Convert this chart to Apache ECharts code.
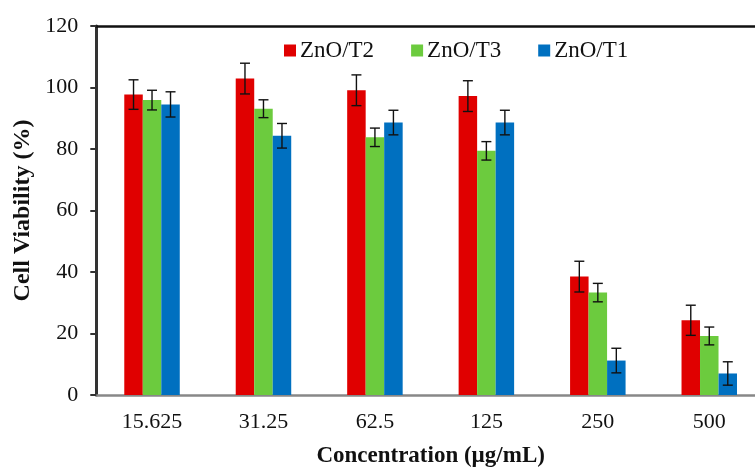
<!DOCTYPE html>
<html><head><meta charset="utf-8">
<script src="https://cdn.jsdelivr.net/npm/echarts@6/dist/echarts.min.js"></script>
<style>html,body{margin:0;padding:0;background:#fff}#c{width:755px;height:468px}</style>
</head><body><div id="c"></div>
<script>
const categories = ['15.625', '31.25', '62.5', '125', '250', '500'];
const seriesNames = ['ZnO/T2', 'ZnO/T3', 'ZnO/T1'];
const t2Values = [97.7, 102.9, 99.1, 97.2, 38.5, 24.3];
const t3Values = [95.9, 93.1, 83.8, 79.4, 33.3, 19.2];
const t1Values = [94.5, 84.3, 88.6, 88.6, 11.2, 7.0];
const t2Errors = [4.8, 5.0, 5.0, 5.0, 5.0, 4.9];
const t3Errors = [3.2, 2.9, 3.0, 3.0, 3.0, 2.9];
const t1Errors = [4.1, 4.0, 4.0, 4.0, 4.0, 3.8];
const yTicks = [0, 20, 40, 60, 80, 100, 120];

const colors = ['#E00000', '#6CCB3E', '#0070C0'];
const values = [t2Values, t3Values, t1Values];
const errors = [t2Errors, t3Errors, t1Errors];
const BAR_W = 18.5;
const FONT = '"Liberation Serif", "Times New Roman", serif';

const chart = echarts.init(document.getElementById('c'), null, {renderer: 'canvas'});

const barSeries = seriesNames.map((n, i) => ({
  name: n, type: 'bar', data: values[i], barWidth: BAR_W, barGap: '0%',
  itemStyle: {color: colors[i]}, z: 2
}));

const errSeries = seriesNames.map((n, i) => ({
  type: 'custom', name: n + ' err', z: 5, silent: true,
  data: values[i].map((v, k) => [k, v, errors[i][k]]),
  encode: {x: 0, y: 1},
  renderItem: function (params, api) {
    const k = api.value(0), v = api.value(1), e = api.value(2);
    const hi = api.coord([k, v + e]);
    const lo = api.coord([k, v - e]);
    const x = hi[0] + (i - 1) * BAR_W;
    const cap = 5;
    const st = {stroke: '#111', lineWidth: 1.4};
    return {type: 'group', children: [
      {type: 'line', shape: {x1: x, y1: hi[1], x2: x, y2: lo[1]}, style: st},
      {type: 'line', shape: {x1: x - cap, y1: hi[1], x2: x + cap, y2: hi[1]}, style: st},
      {type: 'line', shape: {x1: x - cap, y1: lo[1], x2: x + cap, y2: lo[1]}, style: st}
    ]};
  }
}));

chart.setOption({
  animation: false,
  backgroundColor: '#fff',
  textStyle: {fontFamily: FONT},
  grid: {left: 96.3, right: -10, top: 26, bottom: 73, outerBoundsMode: 'none', containLabel: false},
  legend: {
    data: seriesNames, left: 279, top: 34, itemWidth: 12, itemHeight: 12, itemGap: 37,
    icon: 'rect',
    textStyle: {fontFamily: FONT, fontSize: 23, color: '#111', padding: [0, 0, 0, -1]}
  },
  xAxis: [{
    type: 'category', data: categories, position: 'bottom',
    axisLine: {lineStyle: {color: '#888', width: 2.5}},
    axisTick: {alignWithLabel: true, length: 5, lineStyle: {color: '#888', width: 2}},
    axisLabel: {fontFamily: FONT, fontSize: 22, color: '#111', margin: 16},
    name: 'Concentration (µg/mL)', nameLocation: 'middle', nameGap: 50,
    nameTextStyle: {fontFamily: FONT, fontSize: 23, fontWeight: 'bold', color: '#111'}
  }, {
    type: 'category', data: categories, position: 'top',
    axisLine: {lineStyle: {color: '#111', width: 2.5}},
    axisTick: {show: false}, axisLabel: {show: false}
  }],
  yAxis: {
    type: 'value', min: yTicks[0], max: yTicks[yTicks.length - 1], interval: 20,
    axisLine: {show: true, lineStyle: {color: '#333', width: 3}},
    axisTick: {show: true, length: 6, lineStyle: {color: '#333', width: 2}},
    splitLine: {show: false},
    axisLabel: {fontFamily: FONT, fontSize: 22, color: '#111', margin: 18},
    name: 'Cell Viability (%)', nameLocation: 'middle', nameGap: 62,
    nameTextStyle: {fontFamily: FONT, fontSize: 24, fontWeight: 'bold', color: '#111'}
  },
  series: [...barSeries, ...errSeries]
});
</script></body></html>
